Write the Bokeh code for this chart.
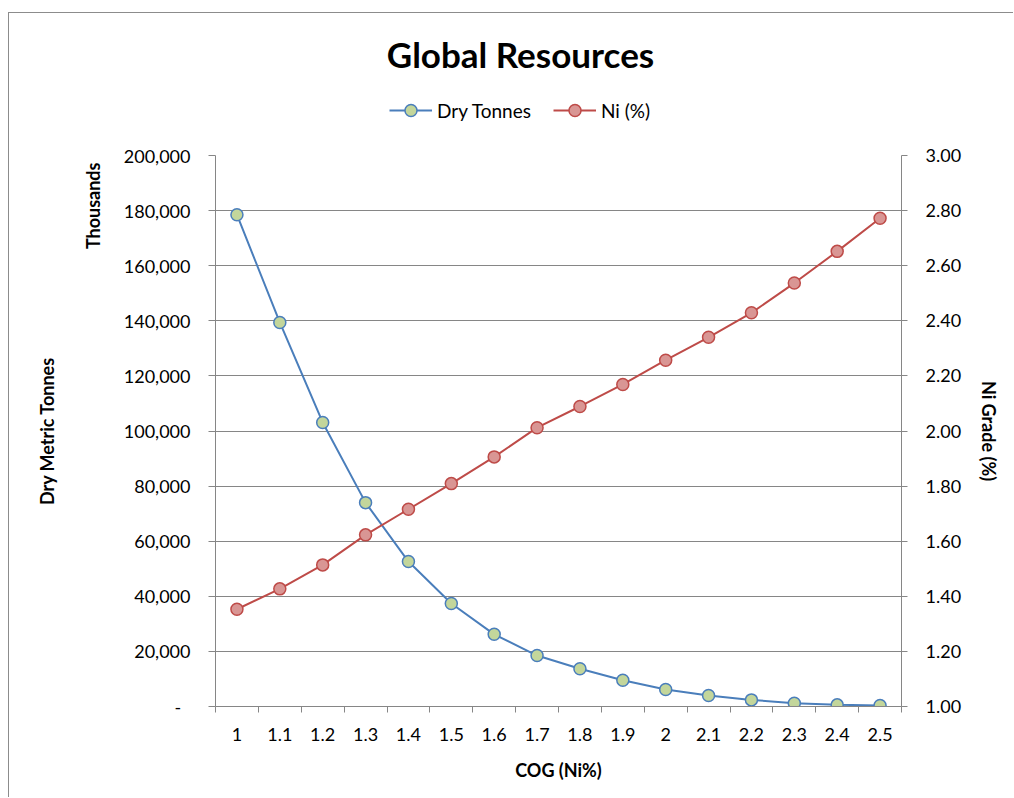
from bokeh.plotting import figure
from bokeh.layouts import column
from bokeh.models import (LinearAxis, Range1d, FixedTicker, Legend, LegendItem, Label, Title,
                          CustomJSTickFormatter, NumeralTickFormatter)
from bokeh.embed import file_html
from bokeh.resources import INLINE

# ---- data ----
cog = ["1", "1.1", "1.2", "1.3", "1.4", "1.5", "1.6", "1.7", "1.8", "1.9",
       "2", "2.1", "2.2", "2.3", "2.4", "2.5"]
dry_tonnes = [178500, 139400, 103100, 74000, 52600, 37400, 26200, 18500,
              13700, 9500, 6200, 4000, 2400, 1200, 600, 350]
ni_grade = [1.353, 1.427, 1.514, 1.623, 1.716, 1.809, 1.906, 2.012,
            2.089, 2.169, 2.257, 2.340, 2.429, 2.537, 2.652, 2.772]
left_ticks = [0, 20000, 40000, 60000, 80000, 100000, 120000, 140000, 160000, 180000, 200000]
right_ticks = [1.0, 1.2, 1.4, 1.6, 1.8, 2.0, 2.2, 2.4, 2.6, 2.8, 3.0]
series_names = ["Dry Tonnes", "Ni (%)"]

xs = list(range(len(cog)))
NAN = float("nan")

FONT = "Lato"
GRID = "#868686"
BLUE = "#4A7EBB"
GREEN_FILL = "#C3D69B"
RED = "#BE4B48"
RED_FILL = "#D99694"
W = 1004
HEAD_H = 125
MAIN_H = 659

# ---------- header: title + legend (frame is aligned with the main chart frame) ----------
head = figure(width=W, height=HEAD_H, output_backend="svg", toolbar_location=None,
              x_range=Range1d(0, 1), y_range=Range1d(0, 1),
              min_border_left=0, min_border_right=0, min_border_top=0, min_border_bottom=0,
              x_axis_location=None, y_axis_location=None)
head.title = None
head.outline_line_color = None
head.xgrid.grid_line_color = None
head.ygrid.grid_line_color = None
head.background_fill_color = "white"
head.border_fill_color = "white"

# legend proxies (no visible data)
hl1 = head.line([NAN], [NAN], line_color=BLUE, line_width=2)
hs1 = head.scatter([NAN], [NAN], size=12, fill_color=GREEN_FILL, line_color=BLUE, line_width=1.5)
hl2 = head.line([NAN], [NAN], line_color=RED, line_width=2)
hs2 = head.scatter([NAN], [NAN], size=12, fill_color=RED_FILL, line_color=RED, line_width=1.5)

legend = Legend(items=[LegendItem(label=series_names[0], renderers=[hl1, hs1]),
                       LegendItem(label=series_names[1], renderers=[hl2, hs2])],
                orientation="horizontal", location=(174, 13),
                glyph_width=43, glyph_height=30, label_standoff=5, spacing=22,
                padding=0, margin=0, border_line_color=None, background_fill_color=None,
                label_text_font=FONT, label_text_font_size="19px", label_text_color="#000000")
head.add_layout(legend, "center")

head.add_layout(Label(x=305, y=85, x_units="screen", y_units="screen", text="Global Resources",
                      text_align="center", text_baseline="middle", text_font=FONT,
                      text_font_size="35px", text_font_style="bold", text_color="#000000"))

# ---------- main chart ----------
p = figure(width=W, height=MAIN_H, output_backend="svg", toolbar_location=None,
           x_range=Range1d(-0.5, len(cog) - 0.5), y_range=Range1d(0, 200000),
           min_border_left=206, min_border_right=112, min_border_top=17,
           min_border_bottom=91, y_axis_location=None, x_axis_location=None)
p.title = None
p.outline_line_color = None
p.background_fill_color = "white"
p.border_fill_color = "white"
p.extra_y_ranges = {"ni": Range1d(1.0, 3.0)}

# x axis
xaxis = LinearAxis(ticker=FixedTicker(ticks=xs, minor_ticks=[i - 0.5 for i in range(len(cog) + 1)]),
                   formatter=CustomJSTickFormatter(args=dict(labels=cog),
                                                   code="const i = Math.round(tick); return (i >= 0 && i < labels.length) ? labels[i] : '';"))
xaxis.axis_label = "COG (Ni%)"
xaxis.major_tick_line_color = None
xaxis.minor_tick_line_color = GRID
xaxis.minor_tick_out = 6
xaxis.minor_tick_in = 0
xaxis.axis_line_color = GRID
xaxis.major_label_standoff = 15
xaxis.axis_label_standoff = 15
p.add_layout(xaxis, "below")

# left axis (ticks + labels)
yaxis = LinearAxis(ticker=FixedTicker(ticks=left_ticks),
                   formatter=CustomJSTickFormatter(code="return tick == 0 ? '-\u00a0\u00a0' : tick.toLocaleString('en-US');"))
yaxis.major_tick_out = 7
yaxis.major_tick_in = 0
yaxis.minor_tick_line_color = None
yaxis.major_tick_line_color = GRID
yaxis.axis_line_color = GRID
yaxis.major_label_standoff = 18
p.add_layout(yaxis, "left")

# "Thousands" display-unit label
p.add_layout(Title(text="Thousands", align="right", offset=7, standoff=17,
                   text_font=FONT, text_font_size="18px", text_font_style="bold",
                   text_color="#000000"), "left")

# left axis title
yaxis2 = LinearAxis(ticker=FixedTicker(ticks=[]))
yaxis2.axis_label = "Dry Metric Tonnes"
yaxis2.axis_line_color = None
yaxis2.major_tick_line_color = None
yaxis2.minor_tick_line_color = None
yaxis2.axis_label_standoff = 14
p.add_layout(yaxis2, "left")

# right axis
raxis = LinearAxis(y_range_name="ni", ticker=FixedTicker(ticks=right_ticks),
                   formatter=NumeralTickFormatter(format="0.00"))
raxis.axis_label = "Ni Grade (%)"
raxis.major_tick_out = 6
raxis.major_tick_in = 0
raxis.minor_tick_line_color = None
raxis.major_tick_line_color = GRID
raxis.axis_line_color = GRID
raxis.major_label_standoff = 18
raxis.axis_label_standoff = 14
p.add_layout(raxis, "right")

for ax in (xaxis, yaxis, yaxis2, raxis):
    ax.major_label_text_font = FONT
    ax.major_label_text_font_size = "18px"
    ax.major_label_text_color = "#000000"
    ax.axis_label_text_font = FONT
    ax.axis_label_text_font_size = "18px"
    ax.axis_label_text_font_style = "bold"
    ax.axis_label_text_color = "#000000"

# tiny spacer label on the tick axis to push "Thousands" a few px outward
yaxis.axis_label = "\u00a0"
yaxis.axis_label_text_font_size = "1px"
yaxis.axis_label_standoff = 4

p.ygrid.ticker = FixedTicker(ticks=left_ticks)
p.ygrid.grid_line_color = GRID
p.ygrid.grid_line_width = 1
p.xgrid.grid_line_color = None

# series
p.line(xs, dry_tonnes, line_color=BLUE, line_width=2)
p.scatter(xs, dry_tonnes, size=12, fill_color=GREEN_FILL, line_color=BLUE, line_width=1.5)
p.line(xs, ni_grade, line_color=RED, line_width=2, y_range_name="ni")
p.scatter(xs, ni_grade, size=12, fill_color=RED_FILL, line_color=RED, line_width=1.5, y_range_name="ni")

layout = column(head, p, spacing=0)
layout.styles = {"border-top": "1px solid #8c8c8c", "border-left": "1px solid #8c8c8c",
                 "margin-left": "8px", "margin-top": "12px"}

open("out.html", "w").write(file_html(layout, INLINE))
